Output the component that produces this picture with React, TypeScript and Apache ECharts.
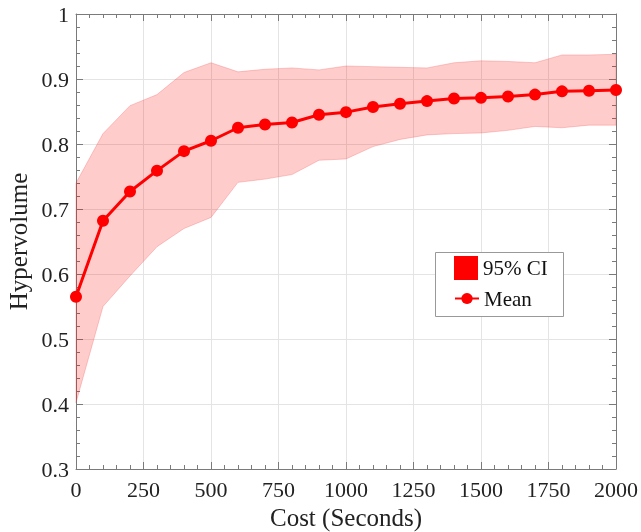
import React, { useEffect, useRef } from "react";
import * as echarts from "echarts";

const costs = [0, 100, 200, 300, 400, 500, 600, 700, 800, 900, 1000, 1100, 1200, 1300, 1400, 1500, 1600, 1700, 1800, 1900, 2000];
const meanValues = [0.565, 0.682, 0.727, 0.759, 0.789, 0.805, 0.825, 0.830, 0.833, 0.845, 0.849, 0.857, 0.862, 0.866, 0.870, 0.871, 0.873, 0.876, 0.881, 0.882, 0.883];
const upperValues = [0.740, 0.816, 0.859, 0.876, 0.910, 0.925, 0.911, 0.915, 0.917, 0.914, 0.920, 0.919, 0.918, 0.917, 0.925, 0.928, 0.927, 0.925, 0.937, 0.937, 0.938];
const lowerValues = [0.402, 0.550, 0.597, 0.642, 0.670, 0.687, 0.741, 0.746, 0.753, 0.775, 0.777, 0.796, 0.807, 0.814, 0.816, 0.817, 0.821, 0.827, 0.825, 0.829, 0.829];

const FONT = "'Liberation Serif', 'Times New Roman', serif";
const AXIS_COLOR = "#7a7a7a";

export default function App() {
  const ref = useRef<HTMLDivElement>(null);
  useEffect(() => {
    document.body.style.margin = "0";
    const chart = echarts.init(ref.current!, null, { renderer: "svg" });
    const fmt = (v: number) => String(parseFloat(v.toFixed(2)));
    const baseAxis = {
      axisLine: { show: true, onZero: false, lineStyle: { color: AXIS_COLOR, width: 1 } },
      axisTick: { show: true, inside: true, length: 7, lineStyle: { color: AXIS_COLOR } },
      minorTick: { show: true, splitNumber: 5, length: 4, lineStyle: { color: AXIS_COLOR } },
    };
    const legendText = { fontFamily: FONT, fontSize: 21, color: "#111" };
    chart.setOption({
      animation: false,
      grid: { left: 76, right: 25, top: 14, bottom: 63, outerBoundsMode: "none", containLabel: false },
      graphic: [
        {
          type: "rect",
          left: 435,
          top: 252,
          shape: { width: 128, height: 64 },
          style: { fill: "#fff", stroke: "#999", lineWidth: 1 },
          z: 50,
        },
      ],
      legend: [
        {
          orient: "vertical",
          left: 454,
          top: 256,
          padding: 0,
          itemWidth: 24,
          itemHeight: 24,
          itemGap: 0,
          z: 60,
          textStyle: legendText,
          data: [{ name: "95% CI", icon: "rect", itemStyle: { color: "#ff0000", opacity: 1 } }],
        },
        {
          orient: "vertical",
          left: 454,
          top: 288,
          padding: 0,
          itemWidth: 24,
          itemHeight: 14,
          itemGap: 0,
          z: 60,
          textStyle: legendText,
          data: [{ name: "Mean" }],
        },
      ],
      xAxis: [
        {
          ...baseAxis,
          type: "value",
          min: 0,
          max: 2000,
          interval: 250,
          position: "bottom",
          name: "Cost (Seconds)",
          nameLocation: "middle",
          nameGap: 29,
          nameTextStyle: { fontFamily: FONT, fontSize: 25, color: "#222" },
          axisLabel: { fontFamily: FONT, fontSize: 22, color: "#222", margin: 9, formatter: (v: number) => String(v) },
          splitLine: { show: true, lineStyle: { color: "#e4e4e4" } },
        },
        {
          ...baseAxis,
          type: "value",
          min: 0,
          max: 2000,
          interval: 250,
          position: "top",
          axisLabel: { show: false },
          splitLine: { show: false },
        },
      ],
      yAxis: [
        {
          ...baseAxis,
          type: "value",
          min: 0.3,
          max: 1,
          interval: 0.1,
          position: "left",
          name: "Hypervolume",
          nameLocation: "middle",
          nameGap: 39,
          nameTextStyle: { fontFamily: FONT, fontSize: 25, color: "#222" },
          axisLabel: { fontFamily: FONT, fontSize: 22, color: "#222", margin: 7, formatter: fmt },
          splitLine: { show: true, lineStyle: { color: "#e4e4e4" } },
        },
        {
          ...baseAxis,
          type: "value",
          min: 0.3,
          max: 1,
          interval: 0.1,
          position: "right",
          axisLabel: { show: false },
          splitLine: { show: false },
        },
      ],
      series: [
        {
          name: "95% CI",
          type: "custom",
          data: [0],
          itemStyle: { color: "#ff0000" },
          silent: true,
          z: 1,
          renderItem: (params: any, api: any) => {
            const top = costs.map((c, i) => api.coord([c, upperValues[i]]));
            const bottom = costs.map((c, i) => api.coord([c, lowerValues[i]])).reverse();
            return {
              type: "polygon",
              shape: { points: top.concat(bottom) },
              style: { fill: "rgba(255,0,0,0.2)", stroke: "rgba(240,60,60,0.25)", lineWidth: 1 },
            };
          },
        },
        {
          name: "Mean",
          type: "line",
          data: costs.map((c, i) => [c, meanValues[i]]),
          symbol: "circle",
          symbolSize: 12,
          itemStyle: { color: "#ff0000" },
          lineStyle: { color: "#ff0000", width: 3 },
          z: 3,
        },
      ],
    });
    return () => chart.dispose();
  }, []);
  return <div ref={ref} style={{ width: 641, height: 532, position: "fixed", left: 0, top: 0 }} />;
}
